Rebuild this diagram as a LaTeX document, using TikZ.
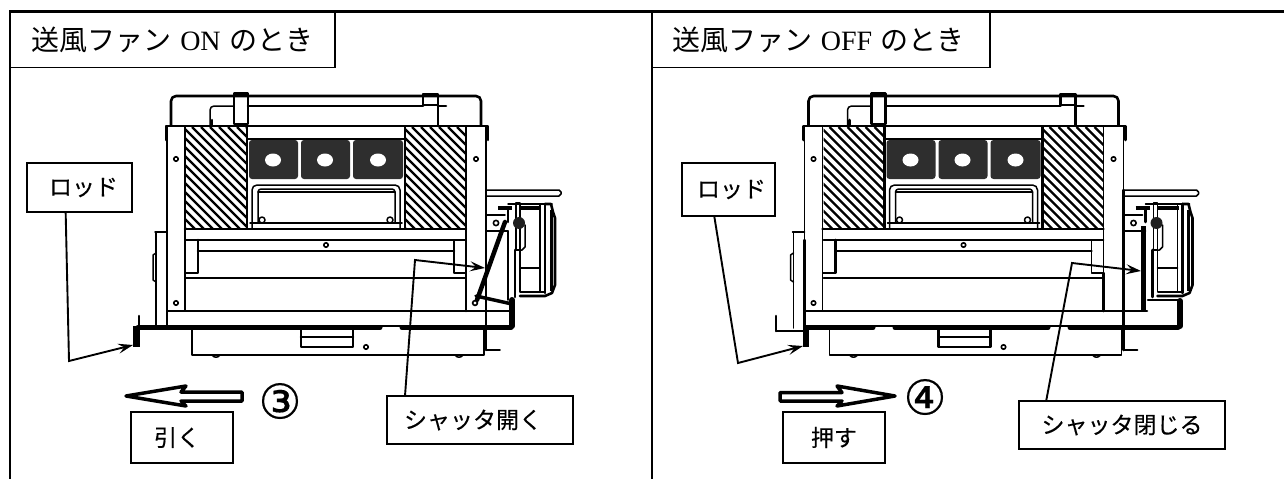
\documentclass[tikz,border=0pt]{standalone}
\usepackage{fontspec}
\usetikzlibrary{arrows.meta,calc}
\newfontfamily\cjk{Noto Sans CJK JP}
\newfontfamily\cjkb[FakeBold=0.25]{Noto Sans CJK JP}
\newfontfamily\circfont[FakeBold=0.3]{DejaVu Sans}
\newfontfamily\latinf{Liberation Serif}
\tikzset{
  x=1pt,y=-1pt,
  ln/.style={line width=1.5pt,line cap=round,line join=round},
  thn/.style={line width=1.1pt,line cap=round,line join=round},
  thk/.style={line width=2.6pt,line cap=round,line join=round},
  hvy/.style={line width=5pt,line cap=round,line join=round},
  hole/.style={line width=1.6pt,fill=white},
  labelbox/.style={draw,line width=1.4pt,fill=white,inner sep=0pt,font=\cjkb\fontsize{23}{25}\selectfont},
  titlebox/.style={draw,line width=1.4pt,inner sep=0pt,font=\fontsize{28}{30}\selectfont},
  leader/.style={line width=1.9pt,line join=miter,-{Stealth[length=15pt,width=10pt,inset=6pt]}},
  bigarrow/.style={line width=3.5pt,line join=round,fill=white},
  numlabel/.style={inner sep=0pt,font=\circfont\fontsize{48}{50}\selectfont},
}
\newcommand{\hatchblock}[4]{%
  \begin{scope}
    \clip (#1,#2) rectangle (#3,#4);
    \foreach \k in {0,...,24}{
      \draw[line width=2.4pt] ({#1-120+\k*9},#2) -- ({#1+\k*9},{#2+120});
    }
  \end{scope}
}
\newcommand{\drawmachine}{%
  % cover
  \draw[thk] (171,125) -- (171,101) arc[start angle=180,end angle=270,radius=5] -- (476,96) arc[start angle=270,end angle=360,radius=5] -- (481,125);
  \draw[ln] (210,125) -- (210,110) arc[start angle=180,end angle=270,radius=4] -- (234,106);
  \draw[thk] (234,93.5) rectangle (248,124);
  \draw[thk] (248,106) -- (423,106);
  \draw[thk] (423,94) rectangle (438,105);
  \draw[thk] (438,106) -- (446,106);
  \draw[thk] (438,96) -- (438,125);
  \draw[thk] (212,125) -- (212,120);
  % frame
  \draw[thk] (166,140) -- (166,126) -- (488,126) -- (488,140);
  \draw[ln] (167,126) -- (167,240);
  \draw[ln] (486,126) -- (486,190);
  \draw[ln] (185,126) -- (185,311);
  \draw[ln] (466,126) -- (466,273);
  \draw[thk] (466,273) -- (466,311);
  \draw[thk] (486,190) -- (486,350);
  \draw[ln] (486,350) -- (500,350);
  \draw[thk] (167,240) -- (167,328);
  \draw[ln] (155,232) -- (167,232);
  \draw[ln] (156,232) -- (156,328);
  \draw[ln] (156,253) -- (153,255) -- (153,280) -- (156,282);
  \draw[hole] (176,159) circle[radius=2.2];
  \draw[hole] (476,159) circle[radius=2.2];
  \draw[hole] (176,303) circle[radius=2.2];
  \draw[hole] (326,245) circle[radius=2.2];
  % hatching
  \hatchblock{186}{127}{246}{228}
  \hatchblock{406}{127}{466}{228}
  \draw[thk] (247,127) -- (247,228);
  \draw[thk] (405,127) -- (405,228);
  % duct blocks
  \draw[thk] (248,139) -- (404,139);
  \fill[black!82,rounded corners=3pt] (249,140) rectangle (298,179);
  \fill[black!82,rounded corners=3pt] (301,140) rectangle (350,179);
  \fill[black!82,rounded corners=3pt] (353,140) rectangle (403,179);
  \fill[white] (273,160) ellipse[x radius=8,y radius=6.5];
  \fill[white] (325,160) ellipse[x radius=8,y radius=6.5];
  \fill[white] (378,160) ellipse[x radius=8,y radius=6.5];
  % inner duct
  \draw[ln] (252,228) -- (252,190) arc[start angle=180,end angle=270,radius=5] -- (395,185) arc[start angle=270,end angle=360,radius=5] -- (400,228);
  \draw[ln] (258,223) -- (258,192) arc[start angle=180,end angle=270,radius=3] -- (392,189) arc[start angle=270,end angle=360,radius=3] -- (395,223);
  \draw[ln] (258,192) -- (395,192);
  \draw[ln] (250,223) -- (402,223);
  \draw[ln,fill=white] (262,220) circle[radius=3];
  \draw[ln,fill=white] (390,220) circle[radius=3];
  % horizontal members
  \draw[thk] (185,229) -- (466,229);
  \draw[ln] (186,240) -- (466,240);
  \draw[thk] (198,240) -- (198,273) -- (186,273);
  \draw[thk] (198,251) -- (454,251);
  \draw[ln] (454,240) -- (454,273) -- (466,273);
  \draw[ln] (186,278) -- (466,278);
  \draw[ln] (167,311) -- (486,311);
  % tray
  \draw[ln] (192,330) -- (192,355) -- (484,355) -- (484,330);
  \draw[ln] (212,355) .. controls (214,358) and (218,358) .. (220,355);
  \draw[ln] (455,355) .. controls (457,358) and (461,358) .. (463,355);
  \draw[thk] (301,330) -- (301,347) -- (353,347) -- (353,330);
  \draw[thk] (301,337) -- (353,337);
  \draw[hole] (366,347) circle[radius=2.2];
  % fan
  \draw[ln] (487,190) -- (559,190) -- (561,192) -- (561,194) -- (559,196) -- (487,196);
  \draw[ln] (487,215) -- (505,215);
  \draw[ln] (487,231) -- (508,231);
  \draw[hole] (496,223) circle[radius=2.6];
  \draw[line width=4pt] (498,208) -- (512,208);
  \draw[ln] (508,204) -- (552,204);
  \draw[line width=3.4pt] (520,208) -- (541,208);
  \draw[ln] (516,203) rectangle (520,250);
  \fill[black!88] (519,223) circle[radius=6];
  \draw[thk] (508,208) -- (508,222);
  \draw[ln] (516,250) -- (522,250) -- (525,247) -- (525,225);
  \draw[ln] (520,250) -- (520,292);
  \draw[ln] (540,204) -- (540,292);
  \draw[thk] (545,204) -- (545,293);
  \draw[ln] (520,268) -- (540,268);
  \draw[line width=2.8pt] (520,292) -- (545,292);
  \draw[thk] (545,204) -- (551,204) -- (553,212) -- (555,218) -- (555,285) -- (552,293) -- (545,296) -- (520,296);
  \draw[line width=3pt] (551,210) -- (551,291);
}
\begin{document}
\begin{tikzpicture}
\useasboundingbox (0,0) rectangle (1284,479);
\fill[white] (0,0) rectangle (1284,479);
% panels
\draw[line width=1.5pt] (10,11) -- (10,479);
\draw[line width=1.5pt] (652,11) -- (652,479);
\node[titlebox,minimum width=325pt,minimum height=56pt] (titleL) at (172.5,39.5) {{\cjk 送風ファン} {\latinf ON} {\cjk のとき}};
\node[titlebox,minimum width=338pt,minimum height=56pt] (titleR) at (821,39.5) {\hspace*{-5pt}{\cjk 送風ファン} {\latinf OFF} {\cjk のとき}};
\draw[line width=3pt] (9,11.5) -- (1284,11.5);
% machines
\drawmachine
\begin{scope}[xshift=637.5pt]\drawmachine\end{scope}
% left state
\draw[line width=4.5pt,line cap=round] (505,222) -- (477,300);
\draw[line width=3.5pt,line cap=round] (476,296) -- (512,304);
\draw[hole] (475,303) circle[radius=2.4];
\draw[ln] (508,231) -- (508,300);
\draw[thk] (515,250) -- (515,297);
\draw[line width=6pt,line cap=round] (512,300) -- (512,326);
\draw[ln] (486,311) -- (509,311);
\draw[hvy] (138,327.5) -- (380,327.5);
\draw[hvy] (402,327.5) -- (511,327.5);
\draw[ln] (380,326) -- (402,326);
\draw[thk] (139,316) -- (139,330);
\fill[black] (133,326) rectangle (140,347);
% right state
\draw[line width=5pt] (1143,226) -- (1143,311);
\draw[thk] (1123,311) -- (1147,311);
\draw[thk] (1148,300) -- (1178,300);
\draw[line width=6pt,line cap=round] (1180,301) -- (1180,326);
\draw[thk] (1152.5,250) -- (1152.5,297);
\draw[hvy] (806,327.5) -- (873,327.5);
\draw[hvy] (895,327.5) -- (1048,327.5);
\draw[hvy] (1070,327.5) -- (1178,327.5);
\draw[ln] (873,326) -- (895,326);
\draw[ln] (1048,326) -- (1070,326);
\draw[thk] (776,316) -- (776,331);
\draw[ln] (776,331) -- (806,331);
\fill[black] (803,326) rectangle (809,347);
% label boxes
\node[labelbox,minimum width=105pt,minimum height=49pt] (rodL) at (79.5,187.5) {\hspace*{8pt}ロッド};
\node[labelbox,minimum width=93pt,minimum height=53pt] (rodR) at (728.5,189.5) {\hspace*{6pt}ロッド};
\node[labelbox,minimum width=102pt,minimum height=51pt] (pull) at (182,437.5) {\hspace*{-10pt}引く};
\node[labelbox,minimum width=102pt,minimum height=51pt] (push) at (834,437.5) {押す};
\node[labelbox,minimum width=186pt,minimum height=48pt] (openS) at (480,420) {\hspace*{-14pt}シャッタ開く};
\node[labelbox,minimum width=206pt,minimum height=48pt] (closeS) at (1122,425) {シャッタ閉じる};
\coordinate (rodLbend) at (69,361);
\coordinate (rodLtip) at (133,345);
\coordinate (rodRbend) at (738,363);
\coordinate (rodRtip) at (803,346);
\coordinate (openBend) at (415,260);
\coordinate (openTip) at (485,268);
\coordinate (closeBend) at (1072,263);
\coordinate (closeTip) at (1141,271);
\draw[leader] ($(rodL.south west)!0.37!(rodL.south east)$) -- (rodLbend) -- (rodLtip);
\draw[leader] ($(rodR.south west)!0.35!(rodR.south east)$) -- (rodRbend) -- (rodRtip);
\draw[leader] ($(openS.north west)!0.1!(openS.north east)$) -- (openBend) -- (openTip);
\draw[leader] ($(closeS.north west)!0.135!(closeS.north east)$) -- (closeBend) -- (closeTip);
% hollow arrows
\draw[bigarrow] (126,396) -- (186,386) -- (181,392) -- (242,392) -- (242,401) -- (181,401) -- (186,406) -- cycle;
\draw[bigarrow] (895,396) -- (837,386) -- (842,392.5) -- (780,392.5) -- (780,401) -- (842,401) -- (837,406) -- cycle;
\node[numlabel] (three) at (280,401) {③};
\node[numlabel] (four) at (925,397) {④};
\end{tikzpicture}
\end{document}
